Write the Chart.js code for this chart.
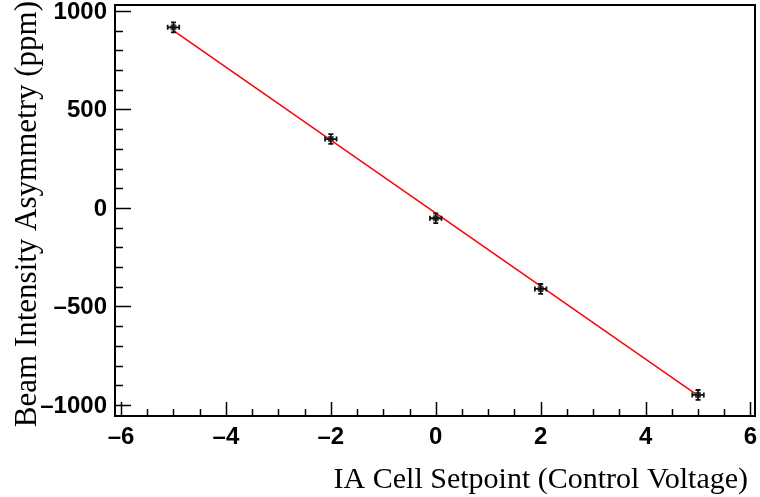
<!DOCTYPE html>
<html>
<head>
<meta charset="utf-8">
<script src="https://cdn.jsdelivr.net/npm/chart.js@4.4.1/dist/chart.umd.min.js"></script>
<style>
  html, body { margin: 0; padding: 0; background: #fff; }
  #wrap { width: 760px; height: 497px; position: relative; }
</style>
</head>
<body>
<div id="wrap"><canvas id="c" width="760" height="497"></canvas></div>
<script>
// ---- data ----
const setpoints   = [-5, -2, 0, 2, 5];           // IA cell setpoint (control voltage)
const asymmetry   = [917, 350, -52, -411, -949]; // beam intensity asymmetry (ppm)
const xErrors     = [0.11, 0.11, 0.11, 0.11, 0.11];
const yErrors     = [25, 25, 25, 25, 25];
const fitX        = [-5, 5];                      // linear fit endpoints
const fitY        = [900, -953];
const xMajorTicks = [-6, -4, -2, 0, 2, 4, 6];
const xTickLabels = ['\u20136', '\u20134', '\u20132', '0', '2', '4', '6'];
const yMajorTicks = [-1000, -500, 0, 500, 1000];
const yTickLabels = ['\u20131000', '\u2013500', '0', '500', '1000'];
const xTitle = 'IA Cell Setpoint (Control Voltage)';
const yTitle = 'Beam Intensity Asymmetry (ppm)';

const xMin = -6.114, xMax = 6.086, yMin = -1056, yMax = 1030.5;

const pointData = setpoints.map((x, i) => ({ x: x, y: asymmetry[i] }));
const fitData = fitX.map((x, i) => ({ x: x, y: fitY[i] }));

const rootStyle = {
  id: 'rootStyle',
  afterDatasetsDraw(chart) {
    const ctx = chart.ctx;
    const xs = chart.scales.x, ys = chart.scales.y;
    const a = chart.chartArea;
    ctx.save();
    // error bars
    ctx.strokeStyle = '#111';
    ctx.lineWidth = 1.8;
    pointData.forEach((p, i) => {
      const px = xs.getPixelForValue(p.x), py = ys.getPixelForValue(p.y);
      const x0 = xs.getPixelForValue(p.x - xErrors[i]), x1 = xs.getPixelForValue(p.x + xErrors[i]);
      const y0 = ys.getPixelForValue(p.y - yErrors[i]), y1 = ys.getPixelForValue(p.y + yErrors[i]);
      ctx.beginPath();
      ctx.moveTo(x0, py); ctx.lineTo(x1, py);
      ctx.moveTo(px, y0); ctx.lineTo(px, y1);
      ctx.moveTo(x0, py - 2.5); ctx.lineTo(x0, py + 2.5);
      ctx.moveTo(x1, py - 2.5); ctx.lineTo(x1, py + 2.5);
      ctx.moveTo(px - 2.5, y0); ctx.lineTo(px + 2.5, y0);
      ctx.moveTo(px - 2.5, y1); ctx.lineTo(px + 2.5, y1);
      ctx.stroke();
    });
    // frame
    ctx.strokeStyle = '#000';
    ctx.lineWidth = 2;
    ctx.strokeRect(a.left, a.top, a.right - a.left, a.bottom - a.top);
    // x ticks (inside, upward)
    ctx.lineWidth = 1.5;
    ctx.beginPath();
    for (let i = 0; i < xMajorTicks.length; i++) {
      const px = Math.round(xs.getPixelForValue(xMajorTicks[i])) + 0.5;
      ctx.moveTo(px, a.bottom); ctx.lineTo(px, a.bottom - 14);
      if (i < xMajorTicks.length - 1) {
        const step = (xMajorTicks[i + 1] - xMajorTicks[i]) / 4;
        for (let k = 1; k < 4; k++) {
          const mx = Math.round(xs.getPixelForValue(xMajorTicks[i] + k * step)) + 0.5;
          ctx.moveTo(mx, a.bottom); ctx.lineTo(mx, a.bottom - 7);
        }
      }
    }
    // y ticks (inside, rightward)
    for (let i = 0; i < yMajorTicks.length; i++) {
      const py = Math.round(ys.getPixelForValue(yMajorTicks[i])) + 0.5;
      ctx.moveTo(a.left, py); ctx.lineTo(a.left + 16, py);
      if (i < yMajorTicks.length - 1) {
        const step = (yMajorTicks[i + 1] - yMajorTicks[i]) / 5;
        for (let k = 1; k < 5; k++) {
          const my = Math.round(ys.getPixelForValue(yMajorTicks[i] + k * step)) + 0.5;
          ctx.moveTo(a.left, my); ctx.lineTo(a.left + 8, my);
        }
      }
    }
    ctx.stroke();
    // tick labels
    ctx.fillStyle = '#000';
    ctx.font = 'bold 24px "Liberation Sans", Arial, sans-serif';
    ctx.textAlign = 'center';
    ctx.textBaseline = 'middle';
    xMajorTicks.forEach((v, i) => {
      ctx.fillText(xTickLabels[i], xs.getPixelForValue(v), 437);
    });
    ctx.textAlign = 'right';
    yMajorTicks.forEach((v, i) => {
      ctx.fillText(yTickLabels[i], 107, ys.getPixelForValue(v) + 1);
    });
    // axis titles
    ctx.font = '30px "Liberation Serif", "Times New Roman", serif';
    ctx.textBaseline = 'alphabetic';
    ctx.textAlign = 'right';
    ctx.fillText(xTitle, 748, 488);
    ctx.save();
    ctx.font = '31px "Liberation Serif", "Times New Roman", serif';
    ctx.translate(36, 1);
    ctx.rotate(-Math.PI / 2);
    ctx.textAlign = 'right';
    ctx.fillText(yTitle, 0, 0);
    ctx.restore();
    ctx.restore();
  }
};

new Chart(document.getElementById('c'), {
  type: 'scatter',
  data: {
    datasets: [
      {
        type: 'line',
        data: fitData,
        borderColor: '#ff0000',
        borderWidth: 1.5,
        pointRadius: 0,
        showLine: true,
        fill: false,
        order: 2
      },
      {
        data: pointData,
        pointStyle: 'rect',
        pointRadius: 3.5,
        backgroundColor: '#444',
        borderColor: '#444',
        borderWidth: 1,
        order: 1
      }
    ]
  },
  options: {
    responsive: false,
    animation: false,
    devicePixelRatio: 1,
    layout: { padding: { left: 115, right: 4, top: 5, bottom: 81 } },
    plugins: { legend: { display: false }, tooltip: { enabled: false } },
    scales: {
      x: { type: 'linear', min: xMin, max: xMax, display: false },
      y: { type: 'linear', min: yMin, max: yMax, display: false }
    }
  },
  plugins: [rootStyle]
});
</script>
</body>
</html>
